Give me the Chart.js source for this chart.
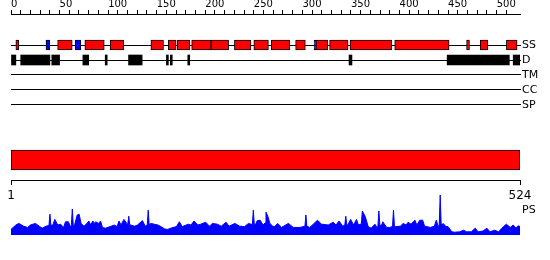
<!DOCTYPE html>
<html>
<head>
<meta charset="utf-8">
<script src="https://cdn.jsdelivr.net/npm/chart.js@4/dist/chart.umd.min.js"></script>
<style>
  html, body { margin: 0; padding: 0; background: #fff; }
  #wrap { position: relative; width: 550px; height: 260px; overflow: hidden; }
  #wrap canvas { position: absolute; left: 0; }
</style>
</head>
<body>
<div id="wrap">
  <canvas id="tracks" width="550" height="118" style="top:0"></canvas>
  <canvas id="seq" width="550" height="65" style="top:140px"></canvas>
  <canvas id="ps" width="550" height="50" style="top:190px"></canvas>
</div>
<script>
// sequence / feature data (residue numbers)
const SEQ_LENGTH = 524;
const trackLabels = ['SS', 'D', 'TM', 'CC', 'SP'];

const helixSegments = [
  [5, 8], [48, 63], [76, 96], [102, 116], [144, 157], [162, 170], [171, 184],
  [186, 206], [206, 224], [230, 247], [250, 265], [268, 287], [293, 303],
  [314, 326], [328, 347], [349, 392], [395, 451], [469, 472], [483, 491], [510, 521]
];
const strandSegments = [[36, 40], [66, 72], [312, 314]];
const disorderSegments = [
  [0, 5], [10, 40], [42, 50], [74, 80], [97, 99], [121, 135], [160, 162],
  [164, 166], [182, 184], [348, 351], [449, 513], [517, 524]
];

const psPositions = [
  1, 6, 9, 14, 18, 21, 26, 30, 33, 37, 40, 41, 42, 44, 46, 49, 52, 55, 57, 60,
  62, 63, 64, 65, 66, 69, 71, 73, 76, 79, 81, 83, 85, 87, 88, 91, 93, 95, 98, 104,
  107, 110, 112, 114, 117, 120, 121, 122, 123, 124, 128, 131, 136, 139, 141, 142, 143, 145, 148, 152,
  155, 159, 162, 165, 171, 174, 177, 183, 186, 189, 193, 196, 201, 205, 208, 213, 217, 222, 225, 231,
  236, 241, 245, 249, 250, 251, 252, 254, 257, 260, 262, 263, 265, 267, 270, 272, 275, 279, 286, 291,
  298, 303, 304, 305, 308, 316, 320, 327, 332, 335, 338, 342, 344, 345, 346, 347, 350, 353, 356, 358,
  361, 362, 365, 368, 371, 375, 377, 378, 379, 380, 382, 383, 387, 390, 393, 394, 395, 396, 401, 404,
  407, 409, 412, 416, 418, 421, 424, 426, 432, 436, 438, 440, 441, 442, 443, 444, 445, 448, 450, 454,
  457, 462, 466, 469, 474, 478, 481, 486, 490, 493, 498, 502, 507, 510, 514, 517, 520, 522, 524
];
const psValues = [
  0.14, 0.25, 0.29, 0.22, 0.19, 0.25, 0.29, 0.22, 0.17, 0.22, 0.24, 0.52, 0.24, 0.25, 0.39, 0.25, 0.27, 0.19, 0.33, 0.33,
  0.21, 0.24, 0.65, 0.24, 0.22, 0.50, 0.52, 0.29, 0.22, 0.29, 0.35, 0.25, 0.35, 0.29, 0.33, 0.29, 0.35, 0.19, 0.17, 0.22,
  0.25, 0.21, 0.35, 0.25, 0.39, 0.29, 0.27, 0.47, 0.26, 0.25, 0.22, 0.25, 0.36, 0.22, 0.25, 0.62, 0.26, 0.29, 0.27, 0.25,
  0.21, 0.15, 0.14, 0.17, 0.21, 0.33, 0.21, 0.27, 0.25, 0.35, 0.25, 0.27, 0.32, 0.22, 0.29, 0.27, 0.22, 0.32, 0.22, 0.29,
  0.22, 0.21, 0.29, 0.26, 0.62, 0.26, 0.25, 0.36, 0.37, 0.25, 0.30, 0.57, 0.46, 0.29, 0.22, 0.21, 0.29, 0.19, 0.29, 0.19,
  0.19, 0.22, 0.50, 0.22, 0.19, 0.37, 0.27, 0.25, 0.32, 0.25, 0.35, 0.22, 0.25, 0.47, 0.25, 0.25, 0.39, 0.25, 0.39, 0.25,
  0.28, 0.60, 0.46, 0.21, 0.17, 0.27, 0.19, 0.22, 0.60, 0.24, 0.25, 0.33, 0.19, 0.19, 0.21, 0.62, 0.22, 0.21, 0.22, 0.29,
  0.25, 0.32, 0.27, 0.37, 0.25, 0.37, 0.37, 0.22, 0.19, 0.22, 0.37, 0.21, 0.25, 1.00, 0.27, 0.25, 0.29, 0.21, 0.21, 0.08,
  0.07, 0.08, 0.12, 0.08, 0.08, 0.17, 0.08, 0.10, 0.17, 0.08, 0.12, 0.08, 0.21, 0.27, 0.19, 0.25, 0.17, 0.23, 0.21
];

Chart.defaults.font.family = "'DejaVu Sans', sans-serif";
Chart.defaults.color = '#000';
Chart.defaults.animation = false;

const noPlugins = {
  legend: { display: false },
  tooltip: { enabled: false }
};

function segmentBars(segments, track) {
  return segments.map(([start, end]) => ({ x: [start, end], y: track }));
}

// keep the axis exactly the size we ask for, no label overhang padding
function fixHeight(h) {
  return (scale) => { scale.height = h; scale.paddingLeft = 0; scale.paddingRight = 0; };
}
function fixWidth(w) {
  return (scale) => { scale.width = w; scale.paddingTop = 0; scale.paddingBottom = 0; };
}

// Feature tracks with the numbered ruler on top
new Chart(document.getElementById('tracks'), {
  type: 'bar',
  data: {
    datasets: [
      {
        data: segmentBars(helixSegments, 0),
        backgroundColor: '#ff0000',
        borderColor: '#000',
        borderWidth: 1,
        borderSkipped: false,
        barThickness: 10,
        grouped: false
      },
      {
        data: segmentBars(strandSegments, 0),
        backgroundColor: '#0000ff',
        borderColor: '#000',
        borderWidth: 1,
        borderSkipped: false,
        barThickness: 10,
        grouped: false
      },
      {
        data: segmentBars(disorderSegments, 1),
        backgroundColor: '#000',
        borderWidth: 0,
        barThickness: 10,
        grouped: false
      }
    ]
  },
  options: {
    responsive: false,
    indexAxis: 'y',
    layout: { padding: { left: 11, right: 0, top: 0, bottom: 0 } },
    plugins: noPlugins,
    scales: {
      x: {
        type: 'linear',
        position: 'top',
        min: 0,
        max: SEQ_LENGTH,
        afterBuildTicks: (scale) => {
          scale.ticks = scale.ticks.filter(t => t.value % 10 === 0);
        },
        afterFit: fixHeight(14),
        ticks: {
          stepSize: 10,
          autoSkip: false,
          maxRotation: 0,
          align: 'start',
          padding: 0,
          font: { size: 10 },
          callback: (v) => (v % 50 === 0 ? String(v) : '')
        },
        grid: { drawOnChartArea: false, drawTicks: true, tickLength: 4, color: '#000' },
        border: { display: true, color: '#000' }
      },
      y: {
        type: 'linear',
        position: 'right',
        reverse: true,
        offset: false,
        min: -2.067,
        max: 4.867,
        afterBuildTicks: (scale) => {
          scale.ticks = trackLabels.map((_, i) => ({ value: i }));
        },
        afterFit: fixWidth(30),
        ticks: {
          padding: 1,
          font: { size: 11 },
          callback: (v) => trackLabels[v]
        },
        grid: { offset: false, color: '#000', lineWidth: 1, drawTicks: true, tickLength: 1 },
        border: { display: false }
      }
    }
  }
});

// Whole-sequence bar with its 1..N ruler
new Chart(document.getElementById('seq'), {
  type: 'bar',
  data: {
    labels: ['seq'],
    datasets: [{
      data: [[1, SEQ_LENGTH]],
      backgroundColor: '#ff0000',
      borderColor: '#000',
      borderWidth: 1,
      borderSkipped: false,
      barThickness: 20
    }]
  },
  options: {
    responsive: false,
    indexAxis: 'y',
    layout: { padding: { left: 11, right: 30, top: 0, bottom: 0 } },
    plugins: noPlugins,
    scales: {
      x: {
        type: 'linear',
        position: 'bottom',
        min: 1,
        max: SEQ_LENGTH,
        afterBuildTicks: (scale) => {
          scale.ticks = [{ value: 1 }, { value: SEQ_LENGTH }];
        },
        afterFit: fixHeight(25),
        ticks: { autoSkip: false, maxRotation: 0, padding: 4, font: { size: 12 } },
        grid: { drawOnChartArea: false, drawTicks: true, tickLength: 5, color: '#000' },
        border: { display: true, color: '#000' }
      },
      y: { display: false }
    }
  }
});

// PS profile
new Chart(document.getElementById('ps'), {
  type: 'line',
  data: {
    datasets: [{
      data: psPositions.map((p, i) => ({ x: p, y: psValues[i] })),
      borderColor: '#0000ff',
      backgroundColor: '#0000ff',
      borderWidth: 1,
      pointRadius: 0,
      tension: 0,
      fill: 'origin'
    }]
  },
  options: {
    responsive: false,
    layout: { padding: { left: 11, right: 0, top: 5, bottom: 5 } },
    plugins: noPlugins,
    scales: {
      x: { type: 'linear', display: false, min: 1, max: SEQ_LENGTH },
      y: {
        position: 'right',
        min: 0,
        max: 1,
        afterBuildTicks: (scale) => { scale.ticks = [{ value: 0.62 }]; },
        afterFit: fixWidth(30),
        ticks: { padding: 2, font: { size: 11 }, callback: () => 'PS' },
        grid: { display: false, drawTicks: false },
        border: { display: false }
      }
    }
  }
});
</script>
</body>
</html>
